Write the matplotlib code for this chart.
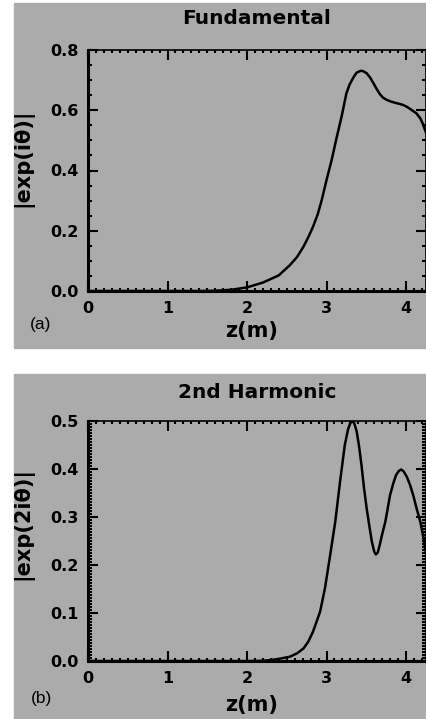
import matplotlib
matplotlib.use('Agg')
import matplotlib.pyplot as plt
from matplotlib.patches import Rectangle
from matplotlib.ticker import MultipleLocator

# Fundamental |exp(i theta)| vs z
z_fund = [0.0, 0.5, 1.0, 1.4, 1.6, 1.8, 2.0, 2.2, 2.4, 2.54, 2.63, 2.71, 2.77, 2.83,
          2.89, 2.94, 3.0, 3.065, 3.13, 3.19, 3.25, 3.29, 3.32, 3.35, 3.38, 3.43,
          3.46, 3.505, 3.55, 3.59, 3.63, 3.67, 3.71, 3.76, 3.81, 3.86, 3.92, 3.97,
          4.02, 4.07, 4.13, 4.18, 4.21, 4.24, 4.26]
v_fund = [0.0, 0.0, 0.0, 0.0, 0.001, 0.004, 0.012, 0.028, 0.052, 0.086, 0.113,
          0.147, 0.178, 0.213, 0.255, 0.302, 0.368, 0.435, 0.512, 0.579, 0.656,
          0.685, 0.70, 0.714, 0.725, 0.731, 0.73, 0.723, 0.708, 0.69, 0.671,
          0.654, 0.642, 0.634, 0.629, 0.625, 0.621, 0.617, 0.61, 0.601, 0.59,
          0.573, 0.556, 0.534, 0.52]

# 2nd harmonic |exp(2i theta)| vs z
z_harm = [0.0, 1.0, 2.0, 2.2, 2.3, 2.42, 2.54, 2.63, 2.71, 2.77, 2.83, 2.92,
          2.98, 3.04, 3.11, 3.17, 3.23, 3.27, 3.3, 3.325, 3.35, 3.38, 3.41,
          3.44, 3.47, 3.505, 3.54, 3.57, 3.6, 3.62, 3.645, 3.67, 3.7, 3.74, 3.77,
          3.80, 3.84, 3.875, 3.91, 3.94, 3.97, 4.01, 4.05, 4.09, 4.13, 4.18,
          4.21, 4.24, 4.26]
v_harm = [0.0, 0.0, 0.0, 0.0005, 0.002, 0.005, 0.009, 0.016, 0.026, 0.04, 0.061,
          0.103, 0.151, 0.214, 0.29, 0.373, 0.45, 0.482, 0.496, 0.50, 0.495,
          0.478, 0.447, 0.408, 0.363, 0.318, 0.28, 0.249, 0.228, 0.222, 0.226,
          0.242, 0.264, 0.29, 0.318, 0.346, 0.37, 0.3875, 0.396, 0.399, 0.395,
          0.384, 0.367, 0.346, 0.32, 0.29, 0.265, 0.235, 0.22]

x_ticks = [0, 1, 2, 3, 4]
fund_yticks = [0.0, 0.2, 0.4, 0.6, 0.8]
harm_yticks = [0.0, 0.1, 0.2, 0.3, 0.4, 0.5]

gray = '#ababab'
W, H = 426, 719

fig = plt.figure(figsize=(W / 100, H / 100), dpi=100, facecolor='white')

# gray panel backgrounds
fig.patches.append(Rectangle((14 / W, 1 - 348 / H), 1 - 14 / W, (348 - 3) / H,
                             transform=fig.transFigure, color=gray, zorder=-10))
fig.patches.append(Rectangle((14 / W, 0), 1 - 14 / W, 1 - 374 / H,
                             transform=fig.transFigure, color=gray, zorder=-10))


def setup(ax, yticks, ymax, yminor, ylabel):
    ax.set_facecolor(gray)
    ax.set_xlim(0, (W - 88) / 79.5)
    ax.set_ylim(0, ymax)
    ax.set_xticks(x_ticks)
    ax.set_yticks(yticks)
    ax.set_xticklabels([str(t) for t in x_ticks])
    ax.set_yticklabels(['%.1f' % t for t in yticks])
    ax.xaxis.set_minor_locator(MultipleLocator(0.1))
    ax.yaxis.set_minor_locator(MultipleLocator(yminor))
    ax.tick_params(which='both', direction='in', top=True, right=True, width=1.5)
    ax.tick_params(which='major', length=7, labelsize=11.5, pad=7)
    ax.tick_params(which='minor', length=3)
    ax.tick_params(axis='x', which='minor', length=2)
    for lab in ax.get_xticklabels() + ax.get_yticklabels():
        lab.set_fontweight('bold')
    for side in ['left', 'bottom']:
        ax.spines[side].set_linewidth(2.2)
    for side in ['top', 'right']:
        ax.spines[side].set_linewidth(1.2)
    ax.set_ylabel(ylabel, fontsize=15, fontweight='bold')


# top panel
ax1 = fig.add_axes([88 / W, 1 - 291 / H, 1 - 88 / W, 241 / H])
ax1.plot(z_fund, v_fund, color='black', linewidth=1.8)
setup(ax1, fund_yticks, 0.8, 0.05, '|exp(iθ)|')
ax1.yaxis.set_label_coords(-(88 - 33) / (W - 88), (291 - 158) / 241)
fig.text(257 / W, 1 - 18 / H, 'Fundamental', ha='center', va='center',
         fontsize=14.5, fontweight='bold')
fig.text(252 / W, 1 - 331 / H, 'z(m)', ha='center', va='center',
         fontsize=15, fontweight='bold')
fig.text(41 / W, 1 - 324 / H, '(a)', ha='center', va='center',
         fontsize=12.5, family='Liberation Sans')

# bottom panel
ax2 = fig.add_axes([88 / W, 1 - 661 / H, 1 - 88 / W, 240 / H])
ax2.plot(z_harm, v_harm, color='black', linewidth=1.8)
setup(ax2, harm_yticks, 0.5, 0.1 / 16, '|exp(2iθ)|')
ax2.yaxis.set_label_coords(-(88 - 33) / (W - 88), (661 - 523) / 240)
fig.text(257 / W, 1 - 392 / H, '2nd Harmonic', ha='center', va='center',
         fontsize=14.5, fontweight='bold')
fig.text(252 / W, 1 - 705 / H, 'z(m)', ha='center', va='center',
         fontsize=15, fontweight='bold')
fig.text(41 / W, 1 - 698 / H, '(b)', ha='center', va='center',
         fontsize=12.5, family='Liberation Sans')

fig.savefig('out.png', dpi=100, facecolor='white')
